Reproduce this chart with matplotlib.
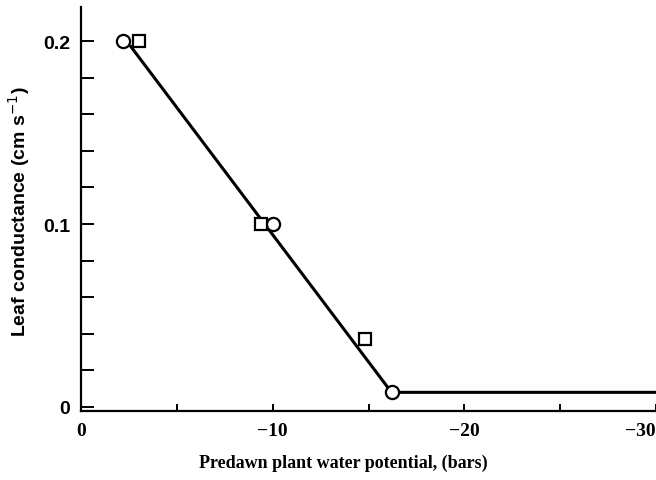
import matplotlib
matplotlib.use("Agg")
import matplotlib.pyplot as plt
from matplotlib.ticker import MultipleLocator

# Data
circle_x = [-2.2, -10.0, -16.2]
circle_y = [0.200, 0.100, 0.008]
square_x = [-3.0, -9.4, -14.8]
square_y = [0.200, 0.100, 0.037]
line_x = [-2.6, -16.2, -30.5]
line_y = [0.197, 0.008, 0.008]

xticks = [0, -10, -20, -30]
xticklabels = ["0", "\u221210", "\u221220", "\u221230"]
yticks = [0, 0.1, 0.2]
yticklabels = ["0", "0.1", "0.2"]

plt.rcParams['font.family'] = ['Liberation Serif', 'DejaVu Serif']

fig = plt.figure(figsize=(6.56, 4.81), dpi=100)
ax = fig.add_axes([81/656, 1-412/481, 575/656, 404/481])

ax.plot(line_x, line_y, color='black', lw=2.2, zorder=2, clip_on=False)
ax.plot(circle_x, circle_y, linestyle='none', marker='o', ms=9.5, mfc='white',
        mec='black', mew=1.6, zorder=3, clip_on=False)
ax.plot(square_x, square_y, linestyle='none', marker='s', ms=8.5, mfc='white',
        mec='black', mew=1.6, zorder=3, clip_on=False)

ax.set_xlim(0, -30)
ax.set_ylim(-0.0022, 0.2186)

for s in ['top', 'right']:
    ax.spines[s].set_visible(False)
for s in ['left', 'bottom']:
    ax.spines[s].set_linewidth(1.6)

ax.set_xticks(xticks)
ax.set_xticklabels(xticklabels, fontsize=14, fontweight='bold')
ax.xaxis.set_minor_locator(MultipleLocator(5))
ax.set_yticks(yticks)
ax.set_yticklabels(yticklabels, fontsize=14, fontweight='bold',
                   family=['Liberation Sans', 'DejaVu Sans'])
ax.yaxis.set_minor_locator(MultipleLocator(0.02))

ax.tick_params(axis='x', which='both', direction='in', length=5, width=1.4, pad=8)
ax.tick_params(axis='y', which='both', direction='in', length=9, width=1.4, pad=8)

labs = ax.get_xticklabels()
labs[-1].set_horizontalalignment('right')

fig.text(343/656, 1-463/481, "Predawn plant water potential, (bars)",
         fontsize=13, fontweight='bold', ha='center', va='center')
fig.text(19/656, 1-212/481, "Leaf conductance (cm s$^{-1}$)",
         fontsize=14, fontweight='bold', ha='center', va='center', rotation=90,
         family=['Liberation Sans', 'DejaVu Sans'])

fig.savefig("out.png", dpi=100)
